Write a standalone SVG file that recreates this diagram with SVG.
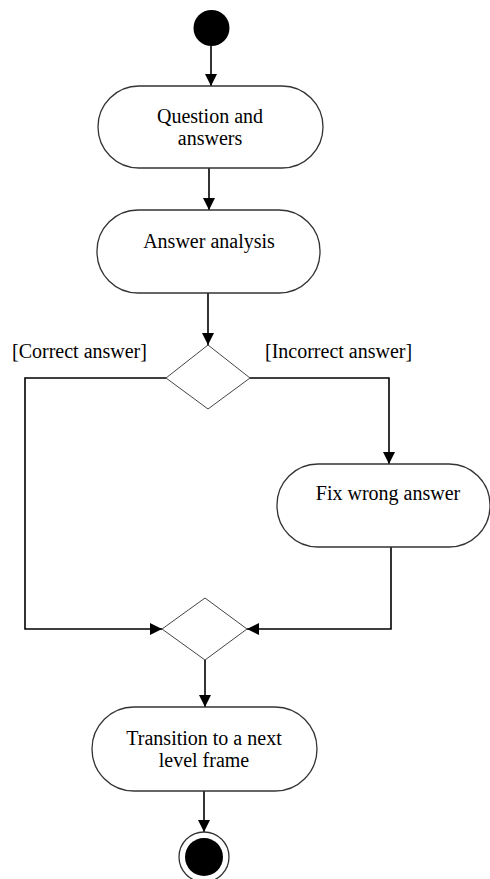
<svg xmlns="http://www.w3.org/2000/svg" width="490" height="879" viewBox="0 0 490 879">
<style>
.act{fill:#fff;stroke:#333;stroke-width:1.3}
.dec{fill:#fff;stroke:#444;stroke-width:1}
.edge{fill:none;stroke:#000;stroke-width:1.6}
text{font-family:"Liberation Serif","Times New Roman",serif;font-size:20px;fill:#000}
.c{text-anchor:middle}
</style>
<defs>
<marker id="ah" markerWidth="12" markerHeight="12" viewBox="0 0 12 12" refX="12" refY="6" orient="auto" markerUnits="userSpaceOnUse">
<path d="M0,0 L12,6 L0,12 Z" fill="#000"/>
</marker>
</defs>
<g id="edges">
<path class="edge" d="M211,46 V86" marker-end="url(#ah)"/>
<path class="edge" d="M209,168 V210" marker-end="url(#ah)"/>
<path class="edge" d="M208,293 V345" marker-end="url(#ah)"/>
<path class="edge" d="M166,378 H25 V629 H162" marker-end="url(#ah)"/>
<path class="edge" d="M250,378 H389 V464" marker-end="url(#ah)"/>
<path class="edge" d="M391,547 V629 H247" marker-end="url(#ah)"/>
<path class="edge" d="M205,660 V707" marker-end="url(#ah)"/>
<path class="edge" d="M204,791 V832" marker-end="url(#ah)"/>
<text x="12" y="358">[Correct answer]</text>
<text x="265" y="358">[Incorrect answer]</text>
</g>
<g id="start"><circle cx="211.5" cy="28" r="18" fill="#000"/></g>
<g id="qa">
<rect class="act" x="98" y="86" width="225" height="82" rx="41"/>
<text class="c" x="210" y="123">Question and</text>
<text class="c" x="210" y="145">answers</text>
</g>
<g id="analysis">
<rect class="act" x="97" y="210" width="223" height="83" rx="41"/>
<text class="c" x="209" y="248">Answer analysis</text>
</g>
<g id="decision"><path class="dec" d="M208,345 L250,378 L208,409 L166,378 Z"/></g>
<g id="fix">
<rect class="act" x="277" y="464" width="213" height="83" rx="41"/>
<text class="c" x="388" y="500">Fix wrong answer</text>
</g>
<g id="merge"><path class="dec" d="M205,598 L247,629 L205,660 L162,629 Z"/></g>
<g id="transition">
<rect class="act" x="92" y="707" width="225" height="84" rx="42"/>
<text class="c" x="204" y="745">Transition to a next</text>
<text class="c" x="204" y="767">level frame</text>
</g>
<g id="end">
<circle cx="204" cy="857" r="25" fill="#fff" stroke="#333" stroke-width="1.3"/>
<circle cx="204" cy="857" r="19" fill="#000"/>
</g>
</svg>
